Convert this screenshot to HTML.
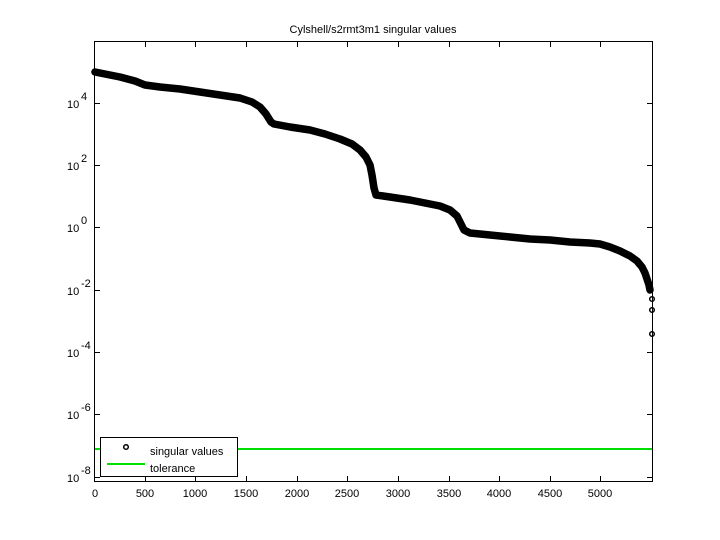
<!DOCTYPE html>
<html><head><style>body{margin:0;background:#fff}svg{display:block}text{font-family:"Liberation Sans",sans-serif;font-size:11px;fill:#000}</style></head>
<body>
<svg width="720" height="540" viewBox="0 0 720 540">
<rect width="720" height="540" fill="#fff"/>
<text x="373" y="33" text-anchor="middle">Cylshell/s2rmt3m1 singular values</text>
<line x1="94" y1="449" x2="652" y2="449" stroke="#00e000" stroke-width="2"/>
<polyline fill="none" stroke="#000" stroke-width="7.5" stroke-linejoin="round" stroke-linecap="round"
points="95,72 105,74 120,77 135,81 145,85 160,87 180,89 200,92 220,95 240,98 252,102 260,107 266,114 271,122 274,124 290,127 310,130 325,134 340,139 352,144 360,150 366,157 370,165 372,175 374,188 376,195 390,197 410,200 425,203 440,206 450,210 457,216 461,224 464,230 470,233 490,235 510,237 530,239 550,240 570,242 590,243 600,244 610,247 620,251 630,256 637,261 642,267 645,273 647,279 649,285 650,290"/>
<g fill="none" stroke="#000" stroke-width="1.5">
<circle cx="652" cy="299" r="2.3"/><circle cx="652" cy="310" r="2.3"/><circle cx="652" cy="334" r="2.3"/>
</g>
<g stroke="#000" stroke-width="1" fill="none">
<rect x="94.5" y="41.5" width="558" height="440"/>
<path d="M145.5,481v-5M145.5,42v5M195.5,481v-5M195.5,42v5M246.5,481v-5M246.5,42v5M297.5,481v-5M297.5,42v5M347.5,481v-5M347.5,42v5M398.5,481v-5M398.5,42v5M449.5,481v-5M449.5,42v5M499.5,481v-5M499.5,42v5M550.5,481v-5M550.5,42v5M600.5,481v-5M600.5,42v5"/>
<path d="M95,103.5h5M652,103.5h-5M95,165.5h5M652,165.5h-5M95,227.5h5M652,227.5h-5M95,290.5h5M652,290.5h-5M95,352.5h5M652,352.5h-5M95,414.5h5M652,414.5h-5M95,477.5h5M652,477.5h-5"/>
</g>
<g text-anchor="middle">
<text x="95" y="497">0</text><text x="145" y="497">500</text><text x="195" y="497">1000</text><text x="246" y="497">1500</text><text x="297" y="497">2000</text><text x="347" y="497">2500</text><text x="398" y="497">3000</text><text x="449" y="497">3500</text><text x="499" y="497">4000</text><text x="550" y="497">4500</text><text x="600" y="497">5000</text>
</g>
<g>
<text x="67" y="108">10</text><text x="81" y="100" font-size="8">4</text>
<text x="67" y="170">10</text><text x="81" y="162" font-size="8">2</text>
<text x="67" y="232">10</text><text x="81" y="224" font-size="8">0</text>
<text x="67" y="295">10</text><text x="81" y="287" font-size="8">-2</text>
<text x="67" y="357">10</text><text x="81" y="349" font-size="8">-4</text>
<text x="67" y="419">10</text><text x="81" y="411" font-size="8">-6</text>
<text x="67" y="482">10</text><text x="81" y="474" font-size="8">-8</text>
</g>
<rect x="100.5" y="437.5" width="137" height="39" fill="#fff" stroke="#000"/>
<circle cx="126" cy="447" r="2.3" fill="none" stroke="#000" stroke-width="1.5"/>
<text x="150" y="455">singular values</text>
<line x1="107" y1="464" x2="145" y2="464" stroke="#00e000" stroke-width="2"/>
<text x="150" y="472">tolerance</text>
</svg>
</body></html>
